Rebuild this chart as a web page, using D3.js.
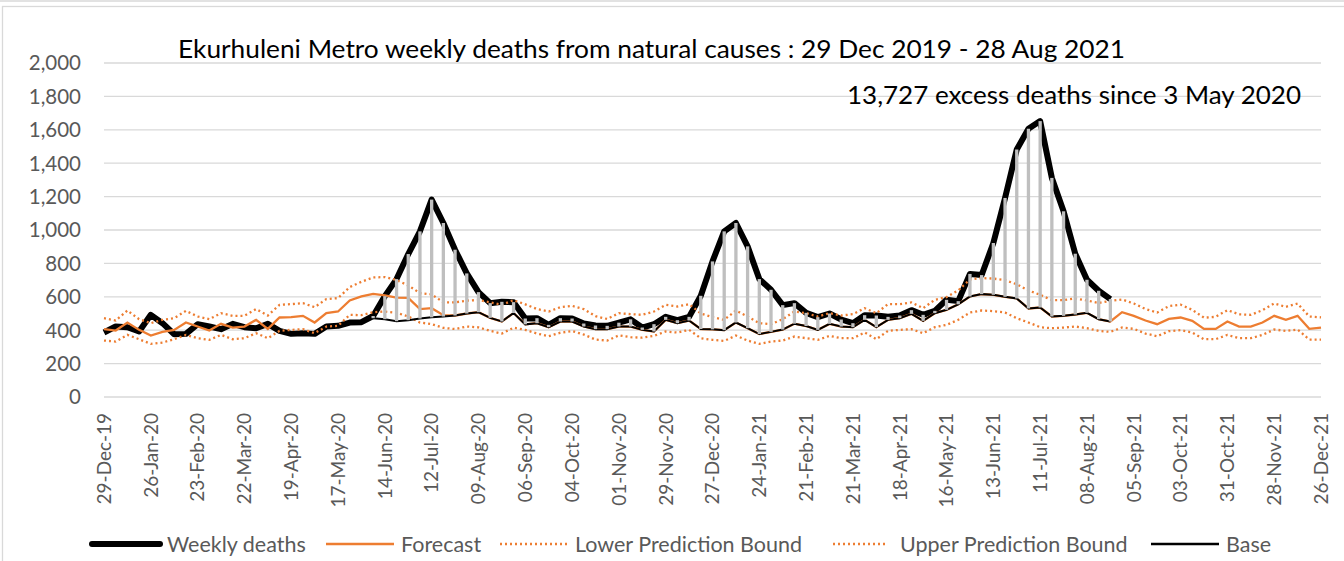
<!DOCTYPE html>
<html>
<head>
<meta charset="utf-8">
<script src="https://cdn.jsdelivr.net/npm/d3@7"></script>
<style>
  body { margin: 0; background: #fff; }
  svg text { font-family: Lato, "Open Sans", sans-serif; }
</style>
</head>
<body>
<div id="chart"></div>
<script>
// weekly data, index 0 = week of 29 Dec 2019
var tickLabels = ["29-Dec-19","26-Jan-20","23-Feb-20","22-Mar-20","19-Apr-20","17-May-20","14-Jun-20",
  "12-Jul-20","09-Aug-20","06-Sep-20","04-Oct-20","01-Nov-20","29-Nov-20","27-Dec-20","24-Jan-21",
  "21-Feb-21","21-Mar-21","18-Apr-21","16-May-21","13-Jun-21","11-Jul-21","08-Aug-21","05-Sep-21",
  "03-Oct-21","31-Oct-21","28-Nov-21","26-Dec-21"];
var yTicks = [0,200,400,600,800,1000,1200,1400,1600,1800,2000];

var weeklyDeaths = [386,422,418,392,492,442,376,378,436,422,406,438,418,412,438,396,378,382,378,422,
  426,446,448,485,604,706,856,992,1182,1042,882,740,628,562,570,568,470,472,432,472,470,440,428,426,
  445,465,416,436,480,460,480,606,812,992,1042,902,706,642,550,562,504,478,500,464,442,490,488,480,
  488,520,492,516,582,574,737,730,922,1192,1482,1606,1652,1312,1112,858,702,636,586];

// base starts at week index 23
var baseStart = 23;
var base = [472,466,454,460,470,477,482,488,500,508,474,452,503,435,442,418,452,452,422,406,406,422,
  422,402,392,462,442,458,407,405,400,446,412,377,390,404,439,425,402,438,422,418,462,418,462,472,
  498,456,502,522,555,602,616,612,600,590,530,536,482,486,494,504,466,452];

var forecast = [406,398,446,402,368,390,402,446,422,398,438,416,422,462,408,476,478,486,446,502,512,
  578,602,617,608,595,594,526,532,490,488,500,508,474,452,503,435,442,418,452,452,422,406,406,422,
  422,402,392,462,442,458,407,405,400,446,412,377,390,404,439,425,402,438,422,418,462,418,462,472,
  498,456,502,522,555,602,616,612,600,590,530,536,482,486,494,504,466,452,508,486,458,436,468,476,
  456,408,408,452,422,422,446,486,462,486,408,416];

var upper = [472,458,518,466,442,462,472,516,482,466,502,486,486,526,488,552,556,562,538,586,592,658,
  690,716,718,700,668,622,614,567,567,577,581,567,552,580,555,527,512,538,546,526,484,467,502,496,
  492,512,552,542,556,500,478,462,518,482,442,436,466,512,502,482,502,488,496,532,502,556,556,566,
  532,582,598,638,704,712,709,700,675,638,612,580,580,590,578,563,576,584,560,527,506,544,553,522,
  475,480,520,495,492,520,560,540,560,482,477];

var lower = [338,332,372,346,318,326,346,372,352,342,372,346,352,382,352,396,402,406,382,422,426,492,
  490,508,512,504,482,446,436,414,407,422,417,396,380,415,402,380,364,385,395,374,344,338,369,358,
  355,366,392,386,402,352,342,336,368,338,318,332,338,362,352,342,366,352,352,386,346,396,402,406,
  382,418,432,462,506,518,514,506,472,446,418,412,416,422,412,396,390,416,408,380,364,394,400,386,
  346,346,372,352,352,372,404,396,404,344,344];

var legendNames = ["Weekly deaths","Forecast","Lower Prediction Bound","Upper Prediction Bound","Base"];

var orange = "#ED7D31", grey = "#595959";
var W = 1344, H = 561;

var svg = d3.select("#chart").append("svg").attr("width", W).attr("height", H);

// chart frame
svg.append("line").attr("x1", 0).attr("x2", W).attr("y1", 1).attr("y2", 1)
  .attr("stroke", "#d9d9d9").attr("stroke-width", 1.5);
svg.append("rect").attr("x", 2.5).attr("y", 6.5).attr("width", W).attr("height", H)
  .attr("fill", "none").attr("stroke", "#d9d9d9").attr("stroke-width", 1.3);

var x = d3.scaleLinear().domain([0, forecast.length - 1]).range([104, 1321]);
var y = d3.scaleLinear().domain([0, 2000]).range([397, 63]);

// gridlines
svg.append("g").selectAll("line").data(yTicks).enter().append("line")
  .attr("x1", 104).attr("x2", 1321)
  .attr("y1", d => y(d)).attr("y2", d => y(d))
  .attr("stroke", "#d9d9d9").attr("stroke-width", 1.3);

// y labels
svg.append("g").selectAll("text").data(yTicks).enter().append("text")
  .attr("x", 81).attr("y", d => y(d)).attr("dy", "0.36em")
  .attr("text-anchor", "end").attr("fill", grey).style("font-size", "20.5px")
  .text(d => d3.format(",")(d));

// x labels
svg.append("g").selectAll("text").data(tickLabels).enter().append("text")
  .attr("transform", (d, i) => "translate(" + x(i * 4) + ",413) rotate(-90)")
  .attr("dy", "0.36em").attr("text-anchor", "end").attr("fill", grey).style("font-size", "19px")
  .text(d => d);

var line = d3.line().x(d => x(d[0])).y(d => y(d[1]));
function pts(arr, start) { return arr.map((v, i) => [i + (start || 0), v]); }

svg.append("path").attr("d", line(pts(weeklyDeaths))).attr("fill", "none")
  .attr("stroke", "#000").attr("stroke-width", 6).attr("stroke-linejoin", "round");
svg.append("path").attr("d", line(pts(forecast))).attr("fill", "none")
  .attr("stroke", orange).attr("stroke-width", 2.3);
svg.append("path").attr("d", line(pts(lower))).attr("fill", "none")
  .attr("stroke", orange).attr("stroke-width", 2.3).attr("stroke-dasharray", "2,3");
svg.append("path").attr("d", line(pts(upper))).attr("fill", "none")
  .attr("stroke", orange).attr("stroke-width", 2.3).attr("stroke-dasharray", "2,3");
svg.append("path").attr("d", line(pts(base, baseStart))).attr("fill", "none")
  .attr("stroke", "#000").attr("stroke-width", 2);

// excess bars between base and weekly deaths
var bars = base.map((b, k) => ({ i: k + baseStart, lo: b, hi: weeklyDeaths[k + baseStart] }))
  .filter(d => d.hi > d.lo);
svg.append("g").selectAll("line").data(bars).enter().append("line")
  .attr("x1", d => x(d.i)).attr("x2", d => x(d.i))
  .attr("y1", d => y(d.lo)).attr("y2", d => y(d.hi))
  .attr("stroke", "#bfbfbf").attr("stroke-width", 3.3);

// titles
svg.append("text").attr("x", 178).attr("y", 58).attr("fill", "#000").style("font-size", "25px")
  .attr("textLength", 947).attr("lengthAdjust", "spacingAndGlyphs")
  .text("Ekurhuleni Metro weekly deaths from natural causes : 29 Dec 2019  - 28 Aug 2021");
svg.append("text").attr("x", 847).attr("y", 104).attr("fill", "#000").style("font-size", "25px")
  .attr("textLength", 454).attr("lengthAdjust", "spacingAndGlyphs")
  .text("13,727 excess deaths since 3 May 2020");

// legend
var legX = [92, 326, 500, 833, 1151];
var leg = svg.append("g").selectAll("g").data(legendNames).enter().append("g")
  .attr("transform", (d, i) => "translate(" + legX[i] + ",544)");
leg.append("line").attr("x1", 0).attr("x2", (d, i) => i == 3 ? 55 : 68).attr("y1", 0).attr("y2", 0)
  .attr("stroke", (d, i) => (i == 0 || i == 4) ? "#000" : orange)
  .attr("stroke-width", (d, i) => i == 0 ? 6 : 2.3)
  .attr("stroke-linecap", (d, i) => i == 0 ? "round" : "butt")
  .attr("stroke-dasharray", (d, i) => (i == 2 || i == 3) ? "2,3" : null);
leg.append("text").attr("x", (d, i) => i == 3 ? 67 : 75).attr("y", 0).attr("dy", "0.36em")
  .attr("fill", grey).style("font-size", "21.5px").text(d => d);
</script>
</body>
</html>
